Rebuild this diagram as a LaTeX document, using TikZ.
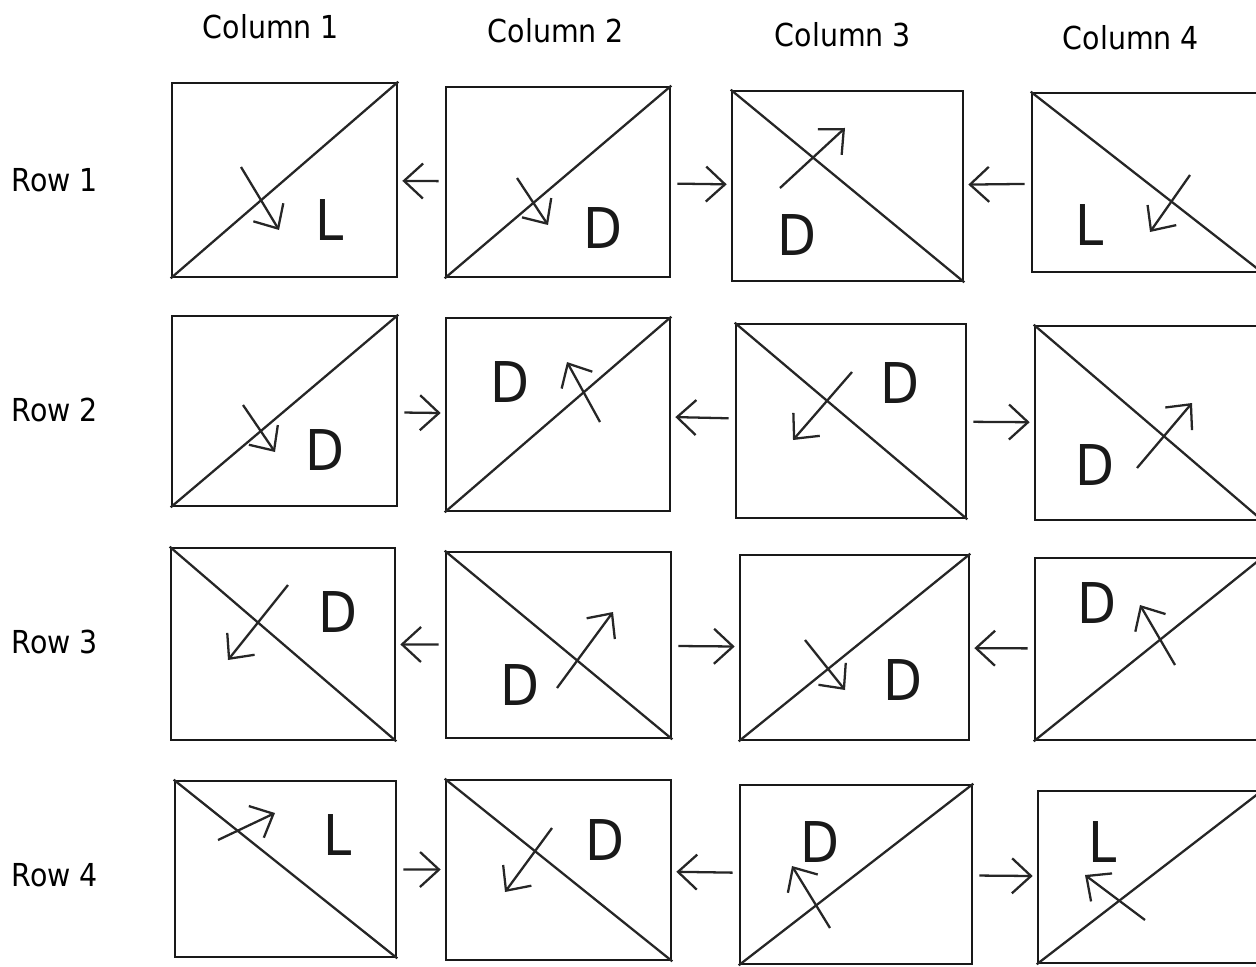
\documentclass[tikz,border=0pt]{standalone}
\usepackage{fontspec}
\newfontfamily\headfont{DejaVu Sans Condensed}
\usepackage{tikz}
\usetikzlibrary{arrows.meta,fit}

\begin{document}
\begin{tikzpicture}[
  x=0.02cm, y=-0.02cm,
  cell/.style ={draw=black!90, line width=1.5pt, inner sep=0pt},
  diag/.style ={draw=black!85, line width=1.3pt},
  hand/.style ={-{Straight Barb[length=3.8mm,width=7mm]}, draw=black!85, line width=1.3pt},
  link/.style ={hand, shorten <=1.2mm, shorten >=0.8mm},
  head/.style ={font=\headfont\fontsize{18}{20}\selectfont},
  tag/.style  ={font=\headfont\fontsize{32}{32}\selectfont, text=black!90},
]
\clip (0,0) rectangle (1256,966);
% ---------------- headings ----------------
\node[head] (col1) at (271,27) {Column 1};
\node[head] (col2) at (556,31) {Column 2};
\node[head] (col3) at (843,35) {Column 3};
\node[head] (col4) at (1131,38) {Column 4};
\node[head] (row1) at (55,180) {Row 1};
\node[head] (row2) at (55,410) {Row 2};
\node[head] (row3) at (55,642) {Row 3};
\node[head] (row4) at (55,875) {Row 4};
% ---------------- cells ----------------
\node[cell, fit={(172,83) (397,277)}]   (r1c1) {};
\node[cell, fit={(446,87) (670,277)}]   (r1c2) {};
\node[cell, fit={(732,91) (963,281)}]   (r1c3) {};
\node[cell, fit={(1032,93) (1262,272)}] (r1c4) {};
\node[cell, fit={(172,316) (397,506)}]  (r2c1) {};
\node[cell, fit={(446,318) (670,511)}]  (r2c2) {};
\node[cell, fit={(736,324) (966,518)}]  (r2c3) {};
\node[cell, fit={(1035,326) (1262,520)}] (r2c4) {};
\node[cell, fit={(171,548) (395,740)}]  (r3c1) {};
\node[cell, fit={(446,552) (671,738)}]  (r3c2) {};
\node[cell, fit={(740,555) (969,740)}]  (r3c3) {};
\node[cell, fit={(1035,558) (1262,740)}] (r3c4) {};
\node[cell, fit={(175,781) (396,957)}]  (r4c1) {};
\node[cell, fit={(446,780) (671,960)}]  (r4c2) {};
\node[cell, fit={(740,785) (972,964)}]  (r4c3) {};
\node[cell, fit={(1038,791) (1262,963)}] (r4c4) {};
% ---------------- diagonals ----------------
\draw[diag] (r1c1.south west) -- (r1c1.north east);
\draw[diag] (r1c2.south west) -- (r1c2.north east);
\draw[diag] (r1c3.north west) -- (r1c3.south east);
\draw[diag] (r1c4.north west) -- (r1c4.south east);
\draw[diag] (r2c1.south west) -- (r2c1.north east);
\draw[diag] (r2c2.south west) -- (r2c2.north east);
\draw[diag] (r2c3.north west) -- (r2c3.south east);
\draw[diag] (r2c4.north west) -- (r2c4.south east);
\draw[diag] (r3c1.north west) -- (r3c1.south east);
\draw[diag] (r3c2.north west) -- (r3c2.south east);
\draw[diag] (r3c3.south west) -- (r3c3.north east);
\draw[diag] (r3c4.south west) -- (r3c4.north east);
\draw[diag] (r4c1.north west) -- (r4c1.south east);
\draw[diag] (r4c2.north west) -- (r4c2.south east);
\draw[diag] (r4c3.south west) -- (r4c3.north east);
\draw[diag] (r4c4.south west) -- (r4c4.north east);
% ---------------- letters ----------------
\node[tag] (t11) at (330,220) {L};
\node[tag] (t12) at (603,228) {D};
\node[tag] (t13) at (797,235) {D};
\node[tag] (t14) at (1090,225) {L};
\node[tag] (t21) at (325,450) {D};
\node[tag] (t22) at (510,382) {D};
\node[tag] (t23) at (900,383) {D};
\node[tag] (t24) at (1095,465) {D};
\node[tag] (t31) at (338,612) {D};
\node[tag] (t32) at (520,685) {D};
\node[tag] (t33) at (903,680) {D};
\node[tag] (t34) at (1097,603) {D};
\node[tag] (t41) at (338,835) {L};
\node[tag] (t42) at (605,840) {D};
\node[tag] (t43) at (820,842) {D};
\node[tag] (t44) at (1103,842) {L};
% ---------------- arrows inside the cells ----------------
\draw[hand] (241,167) -- (279,230);
\draw[hand] (517,178) -- (548,225);
\draw[hand] (780,188) -- (845,128);
\draw[hand] (1190,175) -- (1150,232);
\draw[hand] (243,405) -- (275,452);
\draw[hand] (600,422) -- (567,362);
\draw[hand] (852,372) -- (793,440);
\draw[hand] (1137,468) -- (1192,403);
\draw[hand] (288,585) -- (228,660);
\draw[hand] (557,688) -- (613,612);
\draw[hand] (805,640) -- (845,690);
\draw[hand] (1175,665) -- (1140,605);
\draw[hand] (218,840) -- (275,813);
\draw[hand] (552,828) -- (505,892);
\draw[hand] (830,928) -- (792,866);
\draw[hand] (1145,920) -- (1085,875);
% ---------------- arrows between the cells ----------------
\draw[link] (r1c2) -- (r1c1);
\draw[link] (r1c2) -- (r1c3);
\draw[link] (r1c4) -- (r1c3);
\draw[link] (r2c1) -- (r2c2);
\draw[link] (r2c3) -- (r2c2);
\draw[link] (r2c3) -- (r2c4);
\draw[link] (r3c2) -- (r3c1);
\draw[link] (r3c2) -- (r3c3);
\draw[link] (r3c4) -- (r3c3);
\draw[link] (r4c1) -- (r4c2);
\draw[link] (r4c3) -- (r4c2);
\draw[link] (r4c3) -- (r4c4);
\end{tikzpicture}
\end{document}
